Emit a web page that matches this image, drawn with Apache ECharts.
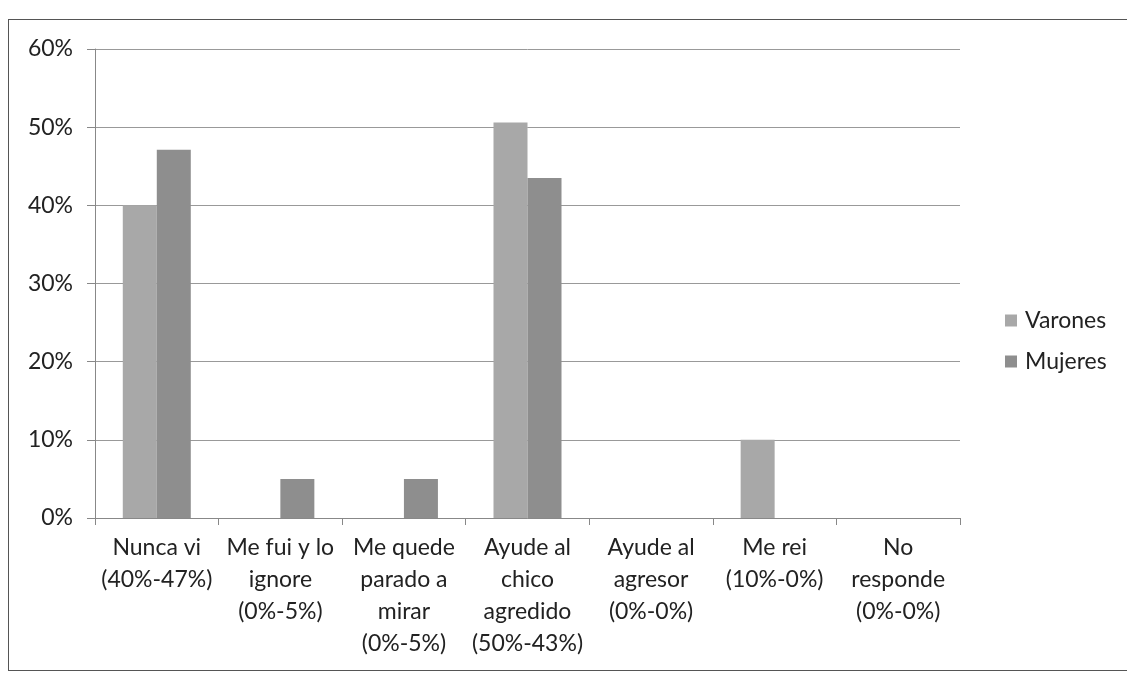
<!DOCTYPE html>
<html><head><meta charset="utf-8">
<script src="https://cdn.jsdelivr.net/npm/echarts@6/dist/echarts.min.js"></script>
<style>
html,body{margin:0;padding:0;background:#fff;}
#frame{position:absolute;left:8px;top:19px;width:1125px;height:652px;border:1.5px solid #555;box-sizing:border-box;}
#c{position:absolute;left:0;top:0;width:1127px;height:673px;}
</style></head>
<body>
<div id="frame"></div>
<div id="c"></div>
<script>
const categories = [
  "Nunca vi\n(40%-47%)",
  "Me fui y lo\nignore\n(0%-5%)",
  "Me quede\nparado a\nmirar\n(0%-5%)",
  "Ayude al\nchico\nagredido\n(50%-43%)",
  "Ayude al\nagresor\n(0%-0%)",
  "Me rei\n(10%-0%)",
  "No\nresponde\n(0%-0%)"
];
const varones = [40, 0, 0, 50.6, 0, 10, 0];
const mujeres = [47.1, 5, 5, 43.5, 0, 0, 0];
const yTicks = [0, 10, 20, 30, 40, 50, 60];

const chart = echarts.init(document.getElementById('c'));
const font = 'Lato, "Open Sans", sans-serif';
chart.setOption({
  animation: false,
  backgroundColor: 'transparent',
  textStyle: {fontFamily: font},
  grid: {left: 95, right: 167, top: 49, bottom: 155, containLabel: false},
  legend: {
    orient: 'vertical', left: 1000, top: 304, itemGap: 18,
    itemWidth: 12, itemHeight: 12, icon: 'rect',
    textStyle: {fontSize: 23, color: '#222', fontFamily: font, padding: [0, 0, 0, 3]},
    data: ['Varones', 'Mujeres']
  },
  xAxis: {
    type: 'category', data: categories,
    axisLine: {lineStyle: {color: '#888', width: 1}},
    axisTick: {show: true, length: 7, lineStyle: {color: '#888'}},
    axisLabel: {interval: 0, fontSize: 23, lineHeight: 32, color: '#222', margin: 14, fontFamily: font}
  },
  yAxis: {
    type: 'value', min: 0, max: 60, interval: 10,
    axisLine: {show: true, lineStyle: {color: '#888'}},
    axisTick: {show: true, length: 8, lineStyle: {color: '#888'}},
    splitLine: {lineStyle: {color: '#999', width: 1}},
    axisLabel: {formatter: v => yTicks.includes(v) ? v + '%' : '', fontSize: 23, color: '#222', margin: 22, fontFamily: font}
  },
  series: [
    {name: 'Varones', type: 'bar', data: varones, barWidth: 34, barGap: '0%',
     itemStyle: {color: '#a8a8a8', borderWidth: 0}},
    {name: 'Mujeres', type: 'bar', data: mujeres, barWidth: 34, barGap: '0%',
     itemStyle: {color: '#8e8e8e', borderWidth: 0}}
  ]
});
</script>
</body></html>
